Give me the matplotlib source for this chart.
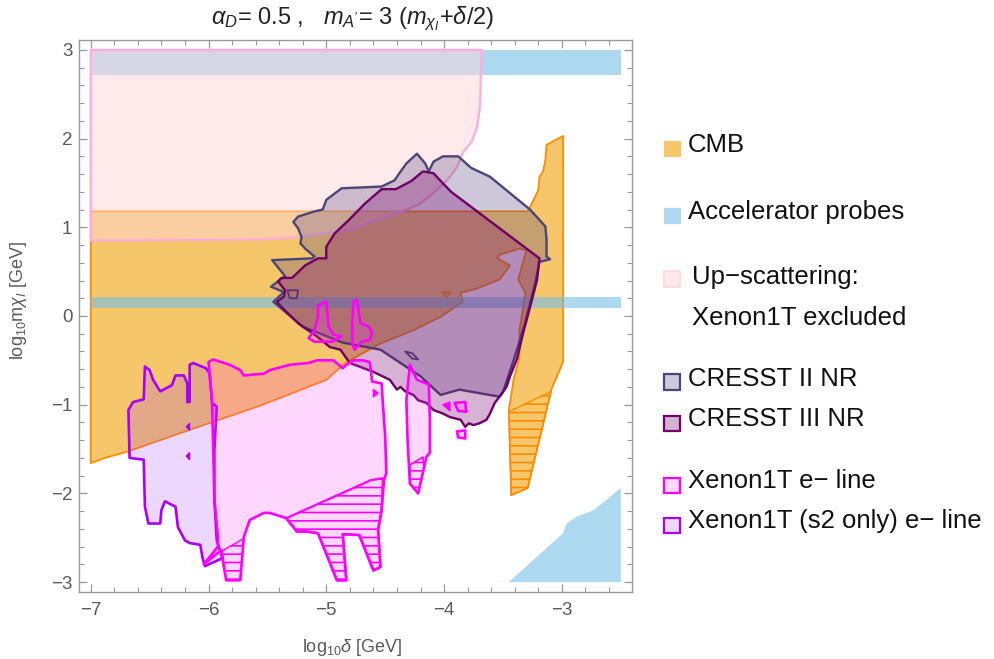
import matplotlib
matplotlib.use("Agg")
import matplotlib.pyplot as plt
import matplotlib.colors as mcolors
from matplotlib.patches import Polygon, Rectangle
from matplotlib.ticker import MultipleLocator

plt.rcParams['font.family'] = ['Liberation Sans', 'DejaVu Sans']
plt.rcParams['mathtext.fontset'] = 'custom'
plt.rcParams['mathtext.rm'] = 'Liberation Sans'
plt.rcParams['mathtext.it'] = 'Liberation Sans:italic'
plt.rcParams['mathtext.bf'] = 'Liberation Sans:bold'
plt.rcParams['hatch.linewidth'] = 1.2

# ---------------- data (log10 delta, log10 m_chi) ----------------
x_ticks = [-7, -6, -5, -4, -3]
y_ticks = [-3, -2, -1, 0, 1, 2, 3]

accel_top = [(-7.0, 2.72), (-2.5, 2.72), (-2.5, 3.0), (-7.0, 3.0)]
accel_mid = [(-7.0, 0.09), (-2.5, 0.09), (-2.5, 0.21), (-7.0, 0.21)]
accel_corner = [(-3.45, -3.0), (-2.99, -2.45), (-2.96, -2.34), (-2.87, -2.26),
                (-2.73, -2.19), (-2.62, -2.07), (-2.5, -1.94), (-2.5, -3.0)]

cmb = [(-7.0, 1.18), (-3.29, 1.18), (-3.24, 1.31), (-3.20, 1.42), (-3.19, 1.57),
       (-3.16, 1.63), (-3.14, 1.76), (-3.13, 1.93), (-3.06, 1.98), (-2.99, 2.03),
       (-2.99, -0.52), (-3.09, -0.83), (-3.29, -1.94), (-3.43, -2.02), (-3.45, -1.06),
       (-3.41, -0.72), (-3.36, -0.46), (-3.36, -0.16), (-3.31, 0.26), (-3.37, 0.41),
       (-3.34, 0.56), (-3.30, 0.74), (-3.36, 0.76), (-3.53, 0.69), (-3.55, 0.65),
       (-3.44, 0.57), (-3.53, 0.41), (-3.72, 0.31), (-3.86, 0.26), (-3.84, 0.16),
       (-4.03, -0.01), (-4.26, -0.16), (-4.54, -0.31), (-4.84, -0.53), (-5.0, -0.72),
       (-5.56, -1.01), (-6.13, -1.27), (-6.69, -1.53), (-6.88, -1.60), (-7.0, -1.66)]
cmb_hatch = [(-3.45, -1.08), (-3.09, -0.85), (-3.29, -1.94), (-3.43, -2.02)]
cmb_notch = [(-4.02, 0.27), (-3.94, 0.27), (-3.98, 0.21)]

upscatter = [(-7.0, 3.0), (-3.68, 3.0), (-3.687, 2.74), (-3.695, 2.36), (-3.72, 2.13),
             (-3.76, 1.98), (-3.84, 1.84), (-3.89, 1.68), (-3.975, 1.53), (-4.09, 1.39),
             (-4.21, 1.26), (-4.37, 1.17), (-4.54, 1.09), (-4.81, 0.97), (-5.24, 0.89),
             (-5.52, 0.865), (-7.0, 0.85)]

cresst2 = [(-5.46, 0.63), (-5.12, 0.65), (-5.10, 0.67), (-5.18, 0.76), (-5.22, 0.82),
           (-5.21, 0.89), (-5.24, 0.99), (-5.28, 1.06), (-5.24, 1.12), (-5.10, 1.18),
           (-5.03, 1.20), (-5.00, 1.31), (-4.87, 1.44), (-4.53, 1.46), (-4.42, 1.53),
           (-4.39, 1.59), (-4.32, 1.72), (-4.23, 1.83), (-4.16, 1.72), (-4.13, 1.63),
           (-4.09, 1.74), (-4.01, 1.80), (-3.88, 1.80), (-3.77, 1.67), (-3.61, 1.57),
           (-3.27, 1.20), (-3.14, 1.01), (-3.13, 0.86), (-3.13, 0.67), (-3.10, 0.64),
           (-3.19, 0.61), (-3.23, 0.35), (-3.31, -0.07), (-3.40, -0.46), (-3.50, -0.86),
           (-3.53, -0.91), (-3.70, -0.87), (-3.87, -0.83), (-4.03, -0.89), (-4.20, -0.68),
           (-4.37, -0.53), (-4.54, -0.38), (-4.86, -0.30), (-5.20, -0.12), (-5.45, 0.16),
           (-5.36, 0.27), (-5.47, 0.33), (-5.35, 0.45)]
cresst2_isle1 = [(-5.33, 0.29), (-5.24, 0.29), (-5.25, 0.20), (-5.31, 0.20)]
cresst2_isle2 = [(-4.33, -0.40), (-4.27, -0.42), (-4.22, -0.49), (-4.27, -0.48)]

cresst3 = [(-4.18, 1.63), (-4.09, 1.61), (-4.02, 1.51), (-3.94, 1.40), (-3.19, 0.65),
           (-3.21, 0.41), (-3.27, 0.10), (-3.33, -0.20), (-3.38, -0.48), (-3.44, -0.68),
           (-3.47, -0.80), (-3.53, -0.91), (-3.57, -0.98), (-3.61, -1.10), (-3.64, -1.17),
           (-3.70, -1.21), (-3.75, -1.23), (-3.79, -1.21), (-3.82, -1.25), (-3.86, -1.17),
           (-3.95, -1.14), (-4.01, -1.10), (-4.09, -1.06), (-4.15, -0.98), (-4.22, -0.95),
           (-4.26, -0.89), (-4.33, -0.85), (-4.37, -0.80), (-4.40, -0.83), (-4.46, -0.72),
           (-4.60, -0.63), (-4.80, -0.53), (-4.88, -0.38), (-4.97, -0.35), (-5.08, -0.23),
           (-5.20, -0.12), (-5.24, -0.08), (-5.38, 0.10), (-5.42, 0.16), (-5.36, 0.22),
           (-5.35, 0.29), (-5.41, 0.39), (-5.38, 0.43), (-5.29, 0.43), (-5.18, 0.57),
           (-5.07, 0.65), (-5.00, 0.65), (-5.00, 0.78), (-4.93, 0.93), (-4.81, 1.08),
           (-4.67, 1.27), (-4.53, 1.43), (-4.41, 1.43), (-4.28, 1.52)]

xe_s2 = [(-6.54, -0.57), (-6.50, -0.61), (-6.47, -0.72), (-6.41, -0.85), (-6.31, -0.78),
         (-6.28, -0.67), (-6.21, -0.67), (-6.18, -0.76), (-6.18, -0.97), (-6.16, -0.97),
         (-6.16, -0.55), (-6.13, -0.53), (-6.02, -0.59), (-5.99, -0.65), (-5.97, -0.98),
         (-5.93, -1.02), (-5.95, -1.51), (-5.95, -2.07), (-5.93, -2.53), (-5.88, -2.73),
         (-6.03, -2.82), (-6.05, -2.73), (-6.07, -2.58), (-6.16, -2.56), (-6.20, -2.53),
         (-6.26, -2.38), (-6.28, -2.15), (-6.37, -2.09), (-6.40, -2.19), (-6.41, -2.34),
         (-6.51, -2.34), (-6.54, -2.15), (-6.55, -1.62), (-6.67, -1.60), (-6.68, -1.06),
         (-6.64, -0.97), (-6.55, -0.94)]
xe_s2_mark1 = [(-6.19, -1.25), (-6.16, -1.21), (-6.16, -1.29)]
xe_s2_mark2 = [(-6.19, -1.58), (-6.16, -1.54), (-6.16, -1.62)]

xe_e = [(-6.00, -0.52), (-5.96, -0.49), (-5.82, -0.55), (-5.73, -0.61), (-5.70, -0.67),
        (-5.53, -0.65), (-5.48, -0.61), (-5.31, -0.55), (-5.15, -0.53), (-5.08, -0.50),
        (-4.94, -0.50), (-4.86, -0.59), (-4.83, -0.55), (-4.77, -0.50), (-4.69, -0.50),
        (-4.63, -0.52), (-4.61, -0.74), (-4.53, -0.76), (-4.52, -0.98), (-4.50, -1.36),
        (-4.49, -1.77), (-4.51, -1.85), (-4.53, -2.19), (-4.56, -2.41), (-4.54, -2.83),
        (-4.60, -2.87), (-4.72, -2.47), (-4.86, -2.46), (-4.83, -2.98), (-4.91, -2.98),
        (-5.07, -2.45), (-5.17, -2.43), (-5.25, -2.43), (-5.34, -2.28), (-5.48, -2.22),
        (-5.53, -2.22), (-5.65, -2.30), (-5.70, -2.49), (-5.73, -2.98), (-5.85, -2.98),
        (-5.89, -2.64), (-6.04, -2.80), (-5.92, -2.60), (-5.92, -2.49), (-5.95, -2.07),
        (-5.96, -1.51), (-5.97, -0.95)]
xe_e_hatch1 = [(-5.34, -2.28), (-4.62, -1.85), (-4.52, -1.83), (-4.53, -2.19), (-4.56, -2.41),
               (-4.54, -2.83), (-4.60, -2.87), (-4.72, -2.47), (-4.86, -2.46), (-4.83, -2.98),
               (-4.91, -2.98), (-5.07, -2.45), (-5.17, -2.43), (-5.25, -2.43)]
xe_e_hatch2 = [(-5.90, -2.66), (-5.70, -2.51), (-5.73, -2.98), (-5.85, -2.98)]
xe_finger1 = [(-5.07, 0.12), (-5.00, 0.16), (-4.98, -0.12), (-4.94, -0.21), (-4.87, -0.23),
              (-4.95, -0.29), (-5.10, -0.29), (-5.15, -0.25), (-5.10, -0.16), (-5.07, -0.01)]
xe_finger2 = [(-4.77, 0.16), (-4.74, 0.18), (-4.71, -0.08), (-4.64, -0.12), (-4.61, -0.18),
              (-4.63, -0.27), (-4.70, -0.29), (-4.74, -0.35), (-4.76, -0.38), (-4.78, -0.31),
              (-4.78, -0.08)]
xe_strip = [(-4.29, -0.55), (-4.23, -0.72), (-4.13, -0.77), (-4.12, -1.17), (-4.12, -1.54),
            (-4.15, -1.59), (-4.17, -1.71), (-4.22, -2.00), (-4.29, -1.89), (-4.31, -1.40),
            (-4.32, -0.95)]
xe_strip_hatch = [(-4.29, -1.68), (-4.18, -1.59), (-4.17, -1.71), (-4.22, -2.00), (-4.29, -1.89)]
xe_sq1 = [(-3.91, -0.98), (-3.82, -0.97), (-3.81, -1.08), (-3.88, -1.07)]
xe_tri1 = [(-4.01, -1.00), (-3.95, -0.97), (-3.95, -1.07)]
xe_sq2 = [(-3.89, -1.30), (-3.82, -1.29), (-3.82, -1.38), (-3.88, -1.37)]
xe_tri2 = [(-4.60, -0.83), (-4.56, -0.87), (-4.60, -0.91)]

legend_labels = ["CMB", "Accelerator probes", "Up\u2212scattering:", "CRESST II NR",
                 "CRESST III NR", "Xenon1T e\u2212 line", "Xenon1T (s2 only) e\u2212 line"]
legend_extra = "Xenon1T excluded"

# ---------------- styles ----------------
C_CMB = (240/255, 160/255, 7/255)
C_CMB_EDGE = '#FF8C00'
C_BLUE = (118/255, 190/255, 230/255)
C_PINK = (255/255, 215/255, 217/255)
C_PINK_EDGE = '#FFAEDC'
C_C2 = (88/255, 72/255, 132/255)
C_C2_EDGE = '#4B4678'
C_C3 = (122/255, 5/255, 112/255)
C_C3_EDGE = '#6E0066'
C_XE = (255/255, 55/255, 255/255)
C_XE_EDGE = '#FF00FF'
C_S2 = (155/255, 55/255, 255/255)
C_S2_EDGE = '#A800FF'

W, H = 994, 659
fig = plt.figure(figsize=(W/100, H/100), dpi=100)
ax = fig.add_axes([79.3/W, 1-592/H, (631.7-79.3)/W, (592-40)/H])


def region(pts, face, alpha, edge, lw, z, hatch=None):
    fc = mcolors.to_rgba(face, alpha) if face is not None else 'none'
    ec = edge if edge is not None else 'none'
    p = Polygon(pts, closed=True, facecolor=fc, edgecolor=ec, linewidth=lw,
                zorder=z, joinstyle='round', hatch=hatch)
    ax.add_patch(p)
    return p


# CMB
region(cmb, C_CMB, 0.6, C_CMB_EDGE, 1.3, 1)
region(cmb_notch, C_CMB, 0.6, C_CMB_EDGE, 0.8, 1)
region(cmb_hatch, None, 0, C_CMB_EDGE, 1.0, 1.1, hatch='--')
# Accelerator
for pts in (accel_top, accel_mid, accel_corner):
    region(pts, C_BLUE, 0.6, None, 0, 2)
# Up-scattering
region(upscatter, C_PINK, 0.5, C_PINK_EDGE, 1.7, 3)
# CRESST
region(cresst2, C_C2, 0.3, C_C2_EDGE, 1.7, 4)
region(cresst2_isle1, None, 0, C_C2_EDGE, 1.3, 4)
region(cresst2_isle2, None, 0, C_C2_EDGE, 1.3, 4)
region(cresst3, C_C3, 0.3, C_C3_EDGE, 1.7, 5)
# Xenon s2
region(xe_s2, C_S2, 0.2, C_S2_EDGE, 1.9, 6)
region(xe_s2_mark1, C_S2_EDGE, 1.0, C_S2_EDGE, 0.8, 6)
region(xe_s2_mark2, C_S2_EDGE, 1.0, C_S2_EDGE, 0.8, 6)
# Xenon e-
region(xe_e, C_XE, 0.2, C_XE_EDGE, 1.9, 7)
region(xe_e_hatch1, None, 0, C_XE_EDGE, 1.6, 7.1, hatch='--')
region(xe_e_hatch2, None, 0, C_XE_EDGE, 1.0, 7.1, hatch='--')
for pts in (xe_finger1, xe_finger2, xe_strip, xe_sq1, xe_sq2):
    region(pts, C_XE, 0.2, C_XE_EDGE, 1.9, 7)
region(xe_strip_hatch, None, 0, C_XE_EDGE, 1.2, 7.1, hatch='--')
region(xe_tri1, C_XE_EDGE, 1.0, C_XE_EDGE, 1.0, 7)
region(xe_tri2, C_XE_EDGE, 1.0, C_XE_EDGE, 1.0, 7)

# axes styling
ax.set_xlim(-7.097, -2.407)
ax.set_ylim(-3.112, 3.112)
ax.set_xticks(x_ticks)
ax.set_yticks(y_ticks)
ax.xaxis.set_minor_locator(MultipleLocator(0.2))
ax.yaxis.set_minor_locator(MultipleLocator(0.2))
ax.tick_params(which='both', direction='in', top=True, right=True,
               color='#999999', labelcolor='#5a5a5a', labelsize=13.5)
ax.tick_params(which='major', length=6, width=0.9)
ax.tick_params(which='minor', length=3.5, width=0.8)
ax.tick_params(axis='x', pad=7)
ax.tick_params(axis='y', pad=5)
for s in ax.spines.values():
    s.set_color('#999999')
    s.set_linewidth(1.0)

fig.text(352/W, 1-647/H, r'log$_{10}\delta$ [GeV]', ha='center', va='center',
         fontsize=13, color='#5a5a5a')
fig.text(19/W, 1-300/H, r'log$_{10}$m$\chi_I$ [GeV]', ha='center', va='center',
         rotation=90, fontsize=13, color='#5a5a5a')
fig.text(353/W, 1-19/H, r"$\alpha_D$= 0.5 ,   $m_{A^{\prime}}$= 3 ($m_{\chi_I}$+$\delta$/2)",
         ha='center', va='center', fontsize=17, color='#222222')

# legend (drawn manually in figure coordinates)
sq_tops = [139.3, 206.0, 268.5, 372.7, 414.0, 476.0, 516.0]
sq_faces = [mcolors.to_rgba(C_CMB, 0.6), mcolors.to_rgba(C_BLUE, 0.6),
            mcolors.to_rgba(C_PINK, 0.5), mcolors.to_rgba(C_C2, 0.3),
            mcolors.to_rgba(C_C3, 0.3), mcolors.to_rgba(C_XE, 0.2),
            mcolors.to_rgba(C_S2, 0.2)]
sq_edges = ['#F8C870', '#B0D8F0', '#FFD8E0', C_C2_EDGE, C_C3_EDGE, C_XE_EDGE, C_S2_EDGE]
sq_lw = [0.8, 0.8, 1.2, 1.6, 1.6, 1.6, 1.6]
baselines = [151.7, 219.0, 284.3, 385.7, 426.0, 488.3, 528.3]
text_x = [688.0, 688.0, 692.0, 688.0, 688.0, 688.0, 688.0]
for i, lab in enumerate(legend_labels):
    size = 17 if i != 2 else 18
    fig.add_artist(Rectangle((664/W, 1-(sq_tops[i]+size)/H), 15.5/W, 15.5/H,
                             transform=fig.transFigure, facecolor=sq_faces[i],
                             edgecolor=sq_edges[i], linewidth=sq_lw[i]))
    fig.text(text_x[i]/W, 1-baselines[i]/H, lab, ha='left', va='baseline',
             fontsize=18.5, color='#111111')
fig.text(692/W, 1-325/H, legend_extra, ha='left', va='baseline',
         fontsize=18.5, color='#111111')

fig.savefig('out.png', dpi=100)
